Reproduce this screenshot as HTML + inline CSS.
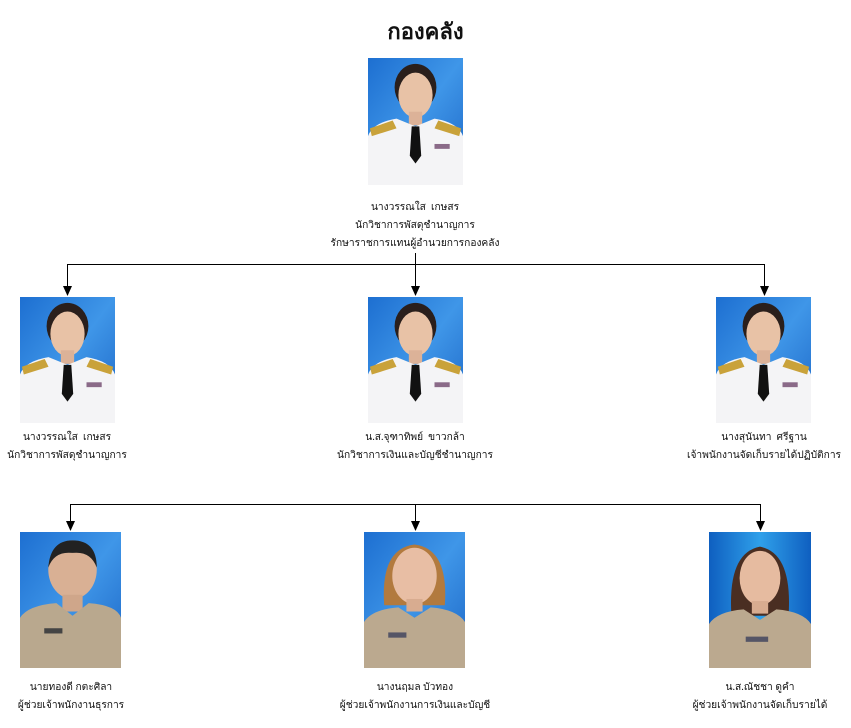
<!DOCTYPE html>
<html><head><meta charset="utf-8">
<style>
html,body{margin:0;padding:0;background:#fff;}
body{width:851px;height:728px;position:relative;overflow:hidden;font-family:"Liberation Serif","DejaVu Sans",serif;color:#111;}
.t{position:absolute;font-size:10.2px;text-align:center;width:300px;line-height:18px;white-space:nowrap;}
.p{position:absolute;}
h1{position:absolute;left:0;top:14px;width:851px;text-align:center;margin:0;font-size:22px;font-weight:bold;}
</style></head><body>
<svg width="0" height="0" style="position:absolute">
<defs>
<linearGradient id="bg" x1="0" y1="0" x2="1" y2="1"><stop offset="0" stop-color="#1d6fd1"/><stop offset="0.5" stop-color="#3f96e8"/><stop offset="1" stop-color="#1c66c6"/></linearGradient>
<linearGradient id="bg2" x1="0" y1="0" x2="1" y2="0"><stop offset="0" stop-color="#0f5fc0"/><stop offset="0.5" stop-color="#2fa0ea"/><stop offset="1" stop-color="#0f5fc0"/></linearGradient>
<symbol id="white" viewBox="0 0 100 130" preserveAspectRatio="none">
<rect width="100" height="130" fill="url(#bg)"/>
<ellipse cx="50" cy="30" rx="22" ry="24" fill="#2a1f1c"/>
<ellipse cx="50" cy="38" rx="18" ry="23" fill="#e8c2a6"/>
<rect x="43" y="55" width="14" height="14" fill="#dcb298"/>
<path d="M0 80 Q5 66 30 62 L50 70 L70 62 Q95 66 100 80 L100 130 L0 130Z" fill="#f4f4f6"/>
<path d="M2 72 L26 64 L30 72 L4 80Z" fill="#c9a23a"/><path d="M98 72 L74 64 L70 72 L96 80Z" fill="#c9a23a"/>
<path d="M46 70 L54 70 L56 100 L50 108 L44 100Z" fill="#111"/>
<rect x="70" y="88" width="16" height="5" fill="#8a6a88"/>
</symbol>
<symbol id="khakiM" viewBox="0 0 100 130" preserveAspectRatio="none">
<rect width="100" height="130" fill="url(#bg)"/>
<ellipse cx="52" cy="36" rx="24" ry="28" fill="#d9b094"/>
<path d="M28 34 Q30 8 52 8 Q76 8 76 34 Q70 18 52 20 Q34 18 28 34Z" fill="#222"/>
<rect x="42" y="60" width="20" height="16" fill="#cfa68a"/>
<path d="M0 82 Q8 70 36 68 L52 80 L68 68 Q96 70 100 82 L100 130 L0 130Z" fill="#b9a88e"/>
<rect x="24" y="92" width="18" height="5" fill="#444"/>
</symbol>
<symbol id="khakiF" viewBox="0 0 100 130" preserveAspectRatio="none">
<rect width="100" height="130" fill="url(#bg2)"/>
<path d="M22 80 Q18 20 50 14 Q82 20 78 80Z" fill="#4a2e22"/>
<ellipse cx="50" cy="44" rx="20" ry="26" fill="#e6bba0"/>
<rect x="42" y="66" width="16" height="12" fill="#d8ac90"/>
<path d="M0 88 Q8 76 34 74 L50 84 L66 74 Q92 76 100 88 L100 130 L0 130Z" fill="#bba98f"/>
<rect x="36" y="100" width="22" height="5" fill="#556"/>
</symbol>
<symbol id="khakiF2" viewBox="0 0 100 130" preserveAspectRatio="none">
<rect width="100" height="130" fill="url(#bg)"/>
<path d="M20 70 Q16 16 50 12 Q84 16 80 70Z" fill="#b27a3e"/>
<ellipse cx="50" cy="42" rx="22" ry="27" fill="#e8bea4"/>
<rect x="42" y="64" width="16" height="12" fill="#d8ac90"/>
<path d="M0 86 Q8 74 34 72 L50 82 L66 72 Q92 74 100 86 L100 130 L0 130Z" fill="#bba98f"/>
<rect x="24" y="96" width="18" height="5" fill="#556"/>
</symbol>
</defs></svg>

<h1>กองคลัง</h1>

<svg class="p" style="left:368px;top:58px" width="95" height="127"><use href="#white" width="95" height="127"/></svg>
<div class="t" style="left:265px;top:199px">นางวรรณใส &nbsp;เกษสร<br>นักวิชาการพัสดุชำนาญการ<br>รักษาราชการแทนผู้อำนวยการกองคลัง</div>

<svg class="p" style="left:0;top:0" width="851" height="728">
<g stroke="#000" stroke-width="1" fill="none">
<line x1="415.5" y1="253" x2="415.5" y2="264"/>
<line x1="67.5" y1="264.5" x2="764.5" y2="264.5"/>
<line x1="67.5" y1="264" x2="67.5" y2="287"/>
<line x1="415.5" y1="264" x2="415.5" y2="287"/>
<line x1="764.5" y1="264" x2="764.5" y2="287"/>
<line x1="70.5" y1="504.5" x2="760.5" y2="504.5"/>
<line x1="415.5" y1="504" x2="415.5" y2="522"/>
<line x1="70.5" y1="504" x2="70.5" y2="522"/>
<line x1="760.5" y1="504" x2="760.5" y2="522"/>
</g>
<g fill="#000">
<path d="M63 286 L72 286 L67.5 296Z"/><path d="M411 286 L420 286 L415.5 296Z"/><path d="M760 286 L769 286 L764.5 296Z"/>
<path d="M66 521 L75 521 L70.5 531Z"/><path d="M411 521 L420 521 L415.5 531Z"/><path d="M756 521 L765 521 L760.5 531Z"/>
</g>
</svg>

<svg class="p" style="left:20px;top:297px" width="95" height="126"><use href="#white" width="95" height="126"/></svg>
<svg class="p" style="left:368px;top:297px" width="95" height="126"><use href="#white" width="95" height="126"/></svg>
<svg class="p" style="left:716px;top:297px" width="95" height="126"><use href="#white" width="95" height="126"/></svg>
<div class="t" style="left:-83px;top:429px">นางวรรณใส &nbsp;เกษสร<br>นักวิชาการพัสดุชำนาญการ</div>
<div class="t" style="left:265px;top:429px">น.ส.จุฑาทิพย์ &nbsp;ขาวกล้า<br>นักวิชาการเงินและบัญชีชำนาญการ</div>
<div class="t" style="left:614px;top:429px">นางสุนันทา &nbsp;ศรีฐาน<br>เจ้าพนักงานจัดเก็บรายได้ปฏิบัติการ</div>

<svg class="p" style="left:20px;top:532px" width="101" height="136"><use href="#khakiM" width="101" height="136"/></svg>
<svg class="p" style="left:364px;top:532px" width="101" height="136"><use href="#khakiF2" width="101" height="136"/></svg>
<svg class="p" style="left:709px;top:532px" width="102" height="136"><use href="#khakiF" width="102" height="136"/></svg>
<div class="t" style="left:-79px;top:679px">นายทองดี กตะศิลา<br>ผู้ช่วยเจ้าพนักงานธุรการ</div>
<div class="t" style="left:265px;top:679px">นางนฤมล บัวทอง<br>ผู้ช่วยเจ้าพนักงานการเงินและบัญชี</div>
<div class="t" style="left:610px;top:679px">น.ส.ณัชชา ดูคำ<br>ผู้ช่วยเจ้าพนักงานจัดเก็บรายได้</div>
</body></html>
